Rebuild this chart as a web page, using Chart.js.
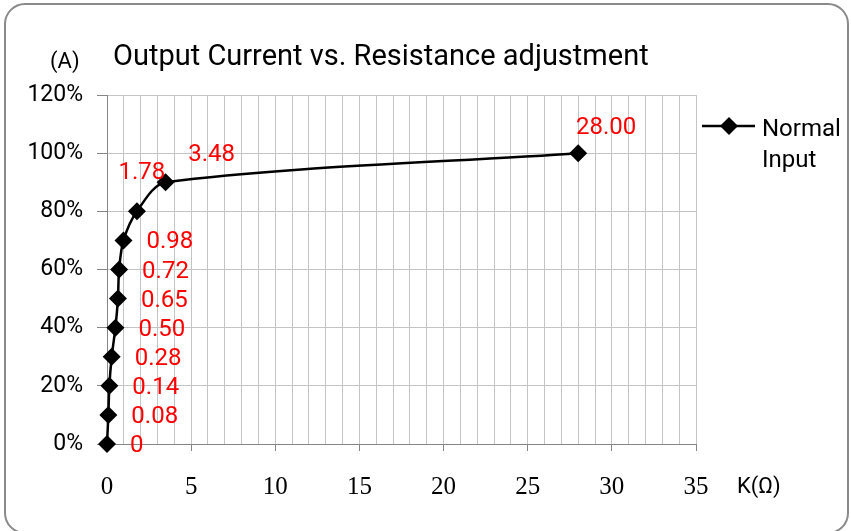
<!DOCTYPE html>
<html><head><meta charset="utf-8">
<script src="https://cdn.jsdelivr.net/npm/chart.js@4/dist/chart.umd.min.js"></script>
<style>html,body{margin:0;padding:0;background:#fff;overflow:hidden}#wrap{width:851px;height:531px;position:relative}</style>
</head><body><div id="wrap"><canvas id="c" width="851" height="531"></canvas></div>
<script>
// ---- data ----
const resistanceK = [0, 0.08, 0.14, 0.28, 0.50, 0.65, 0.72, 0.98, 1.78, 3.48, 28.00];
const outputPct   = [0, 10, 20, 30, 40, 50, 60, 70, 80, 90, 100];
const pointLabels = ['0', '0.08', '0.14', '0.28', '0.50', '0.65', '0.72', '0.98', '1.78', '3.48', '28.00'];
const xMajorTicks = [0, 5, 10, 15, 20, 25, 30, 35];
const yTicks      = [0, 20, 40, 60, 80, 100, 120];
const seriesNameLines = ['Normal', 'Input'];
const titleText = 'Output Current vs. Resistance adjustment';
const yUnitText = '(A)';
const xUnitText = 'K(Ω)';

// ---- styling ----
const GRID = '#c4c4c4';
const AXIS = '#868686';
const SANS = 'Roboto, "Noto Sans", sans-serif';
const SERIF = '"Liberation Serif", "DejaVu Serif", serif';
// label offsets relative to each point (pixels)
const labelPlacement = [
  {dx: 23, dy: 2, align: 'left'}, {dx: 23, dy: 2, align: 'left'}, {dx: 23, dy: 2, align: 'left'},
  {dx: 23, dy: 2, align: 'left'}, {dx: 23, dy: 2, align: 'left'}, {dx: 23, dy: 2, align: 'left'},
  {dx: 23, dy: 2, align: 'left'}, {dx: 23, dy: 2, align: 'left'},
  {dx: 5, dy: -38, align: 'center'}, {dx: 46, dy: -27, align: 'center'}, {dx: 28, dy: -25, align: 'center'}
];

function diamond(ctx, x, y, r) {
  ctx.beginPath();
  ctx.moveTo(x - r, y); ctx.lineTo(x, y - r); ctx.lineTo(x + r, y); ctx.lineTo(x, y + r);
  ctx.closePath(); ctx.fill();
}

const extras = {
  id: 'extras',
  beforeDraw(chart) {
    const ctx = chart.ctx;
    ctx.save(); ctx.fillStyle = '#fff'; ctx.fillRect(0, 0, chart.width, chart.height); ctx.restore();
  },
  afterDraw(chart) {
    const ctx = chart.ctx;
    ctx.save();
    // frame
    ctx.strokeStyle = '#8a8a8a'; ctx.lineWidth = 2;
    ctx.beginPath(); ctx.roundRect(5, 4, 843, 529, 20); ctx.stroke();
    // title
    ctx.fillStyle = '#000'; ctx.textBaseline = 'alphabetic'; ctx.textAlign = 'left';
    ctx.font = '29px ' + SANS; ctx.fillText(titleText, 113, 65);
    ctx.font = '22px ' + SANS; ctx.fillText(yUnitText, 50, 68);
    ctx.font = '22px ' + SANS; ctx.fillText(xUnitText, 737, 493);
    // legend
    ctx.strokeStyle = '#000'; ctx.lineWidth = 2.5;
    ctx.beginPath(); ctx.moveTo(702, 126); ctx.lineTo(755, 126); ctx.stroke();
    ctx.fillStyle = '#000'; diamond(ctx, 729, 126, 9);
    ctx.font = '24px ' + SANS;
    ctx.fillText(seriesNameLines[0], 762, 136);
    ctx.fillText(seriesNameLines[1], 762, 167);
    // data labels
    const meta = chart.getDatasetMeta(0);
    ctx.fillStyle = '#ff0000'; ctx.font = '24px ' + SANS; ctx.textBaseline = 'middle';
    meta.data.forEach((pt, i) => {
      const p = labelPlacement[i];
      ctx.textAlign = p.align;
      ctx.fillText(pointLabels[i], pt.x + p.dx, pt.y + p.dy);
    });
    ctx.restore();
  }
};

new Chart(document.getElementById('c'), {
  type: 'scatter',
  data: {
    datasets: [{
      label: seriesNameLines.join(' '),
      data: resistanceK.map((x, i) => ({x, y: outputPct[i]})),
      showLine: true,
      borderColor: '#000', borderWidth: 2.5,
      pointStyle: 'rectRot', pointRadius: 9, pointHoverRadius: 9,
      pointBackgroundColor: '#000', pointBorderColor: '#000', pointBorderWidth: 0,
      tension: 0.3,
      clip: false
    }]
  },
  options: {
    responsive: false, animation: false, devicePixelRatio: 1,
    layout: {padding: {top: 95, right: 155, left: 0, bottom: 0}},
    plugins: {legend: {display: false}, tooltip: {enabled: false}, title: {display: false}},
    events: [],
    scales: {
      x: {
        type: 'linear', min: 0, max: 35,
        afterFit: s => { s.height = 87; },
        ticks: {
          stepSize: 1, autoSkip: false, maxRotation: 0, minRotation: 0,
          callback: v => xMajorTicks.includes(v) ? String(v) : '',
          font: {family: SERIF, size: 25}, color: '#000', padding: 21
        },
        grid: {
          color: GRID, lineWidth: 1, tickLength: 7,
          tickColor: c => (c.tick && xMajorTicks.includes(c.tick.value)) ? AXIS : 'rgba(0,0,0,0)'
        },
        border: {color: AXIS, width: 1}
      },
      y: {
        type: 'linear', min: 0, max: 120,
        afterFit: s => { s.width = 107; },
        afterBuildTicks: s => { s.ticks = yTicks.map(v => ({value: v})); },
        ticks: {
          callback: v => v + '%',
          font: {family: SANS, size: 23}, color: '#000', padding: 14
        },
        grid: {color: GRID, lineWidth: 1, tickLength: 10, tickColor: AXIS},
        border: {color: AXIS, width: 1}
      }
    }
  },
  plugins: [extras]
});
</script>
</body></html>
